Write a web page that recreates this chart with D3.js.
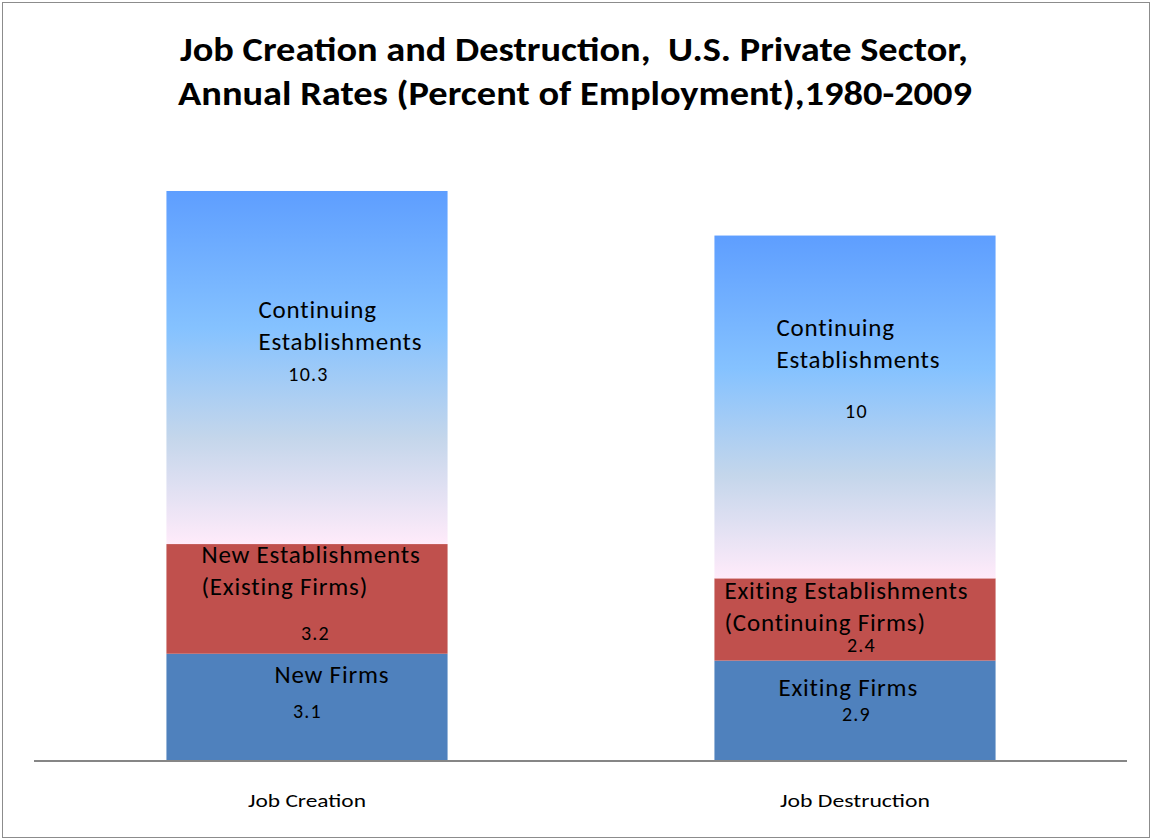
<!DOCTYPE html>
<html>
<head>
<meta charset="utf-8">
<script src="https://cdn.jsdelivr.net/npm/d3@7"></script>
<style>
  html, body { margin: 0; padding: 0; background: #fff; }
  svg { display: block; }
  text { font-family: Carlito, Calibri, Lato, "Open Sans", sans-serif; fill: #000; white-space: pre; }
</style>
</head>
<body>
<svg id="chart" width="1152" height="840"></svg>
<script>
// Job creation / destruction rates, percent of employment, 1980-2009
const categories = ["Job Creation", "Job Destruction"];
const bottomValues = [3.1, 2.9];   // new firms / exiting firms
const middleValues = [3.2, 2.4];   // new establishments / exiting establishments
const topValues = [10.3, 10];      // continuing establishments
const bottomNames = [["New Firms"], ["Exiting Firms"]];
const middleNames = [["New Establishments", "(Existing Firms)"], ["Exiting Establishments", "(Continuing Firms)"]];
const topNames = [["Continuing", "Establishments"], ["Continuing", "Establishments"]];
const titleLines = ["Job Creation and Destruction,  U.S. Private Sector,", "Annual Rates (Percent of Employment),1980-2009"];

const svg = d3.select("#chart");
const W = 1152, H = 840;

// outer frame
svg.append("rect").attr("x", 2.5).attr("y", 2.5).attr("width", W - 5).attr("height", H - 5)
  .attr("fill", "#fff").attr("stroke", "#8c8c8c").attr("stroke-width", 1);

// title
svg.append("text").attr("x", 574).attr("y", 61).attr("text-anchor", "middle")
  .attr("font-size", 34).attr("font-weight", "bold")
  .attr("textLength", 788).attr("lengthAdjust", "spacingAndGlyphs")
  .text(titleLines[0]);
svg.append("text").attr("x", 575).attr("y", 105).attr("text-anchor", "middle")
  .attr("font-size", 34).attr("font-weight", "bold")
  .attr("textLength", 794).attr("lengthAdjust", "spacingAndGlyphs")
  .text(titleLines[1]);

const x = d3.scaleBand().domain(categories).range([33, 1129]).paddingInner(0.487).paddingOuter(0.2435);
const y = d3.scaleLinear().domain([0, 18]).range([760, 143]);

// gradient for the continuing-establishments segment
const defs = svg.append("defs");
const grad = defs.append("linearGradient").attr("id", "daybreak")
  .attr("x1", 0).attr("y1", 0).attr("x2", 0).attr("y2", 1);
[["0%", "#5E9EFF"], ["39%", "#85C2FF"], ["70%", "#C4D6EB"], ["100%", "#FFEBFA"]]
  .forEach(([o, c]) => grad.append("stop").attr("offset", o).attr("stop-color", c));

const rows = categories.map((c, i) => ({
  cat: c,
  segs: [
    { v0: 0, v1: bottomValues[i], val: bottomValues[i], fill: "#4F81BD", names: bottomNames[i] },
    { v0: bottomValues[i], v1: bottomValues[i] + middleValues[i], val: middleValues[i], fill: "#C0504D", names: middleNames[i] },
    { v0: bottomValues[i] + middleValues[i], v1: bottomValues[i] + middleValues[i] + topValues[i], val: topValues[i], fill: "url(#daybreak)", names: topNames[i] }
  ]
}));

const g = svg.append("g");
rows.forEach(r => {
  r.segs.forEach(s => {
    g.append("rect")
      .attr("x", x(r.cat)).attr("width", x.bandwidth())
      .attr("y", y(s.v1)).attr("height", y(s.v0) - y(s.v1))
      .attr("fill", s.fill);
  });
});

// axis baseline
svg.append("line").attr("x1", 34).attr("x2", 1127).attr("y1", 761).attr("y2", 761)
  .attr("stroke", "#868686").attr("stroke-width", 2);

// category labels
categories.forEach(c => {
  svg.append("text").attr("x", x(c) + x.bandwidth() / 2).attr("y", 807)
    .attr("text-anchor", "middle").attr("font-size", 19)
    .attr("textLength", c === "Job Creation" ? 118 : 150).attr("lengthAdjust", "spacingAndGlyphs")
    .text(c);
});

// in-bar labels: name start offset from bar left, name baseline offset from segment top,
// value centre offset from bar left, value baseline offset from segment top
const nameLayout = [
  [{ dx: 108, dy: 29, vx: 141, vy: 64 }, { dx: 35, dy: 19, vx: 149, vy: 96 }, { dx: 92, dy: 127, vx: 142, vy: 190 }],
  [{ dx: 64, dy: 35, vx: 142, vy: 60 }, { dx: 10, dy: 21, vx: 147, vy: 74 }, { dx: 62, dy: 100, vx: 142, vy: 182 }]
];
rows.forEach((r, i) => {
  r.segs.forEach((s, j) => {
    const L = nameLayout[i][j];
    const x0 = x(r.cat), top = y(s.v1);
    s.names.forEach((n, k) => {
      svg.append("text").attr("x", x0 + L.dx).attr("y", top + L.dy + k * 32)
        .attr("font-size", 25).attr("letter-spacing", 0.8).text(n);
    });
    svg.append("text").attr("x", x0 + L.vx).attr("y", top + L.vy)
      .attr("text-anchor", "middle").attr("font-size", 20).attr("letter-spacing", 1.2).text(s.val);
  });
});
</script>
</body>
</html>
